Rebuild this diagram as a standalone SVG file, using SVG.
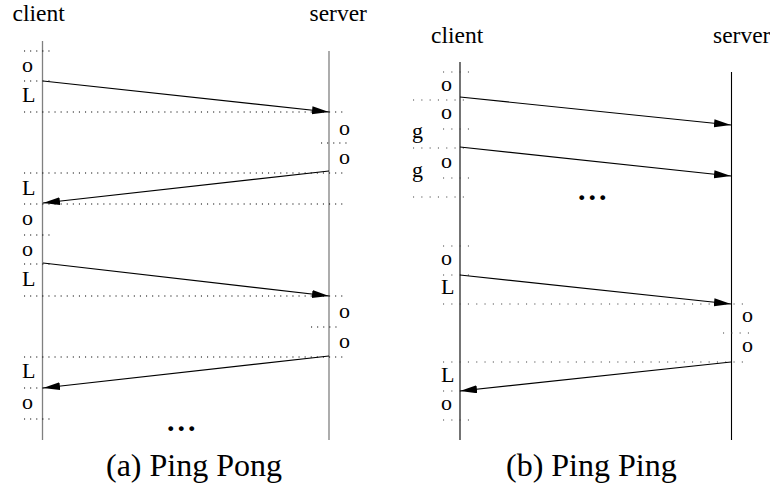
<svg xmlns="http://www.w3.org/2000/svg" width="770" height="488" viewBox="0 0 770 488" font-family="'Liberation Serif', 'DejaVu Serif', serif">
<style>
text{font-family:'Liberation Serif','DejaVu Serif',serif;fill:#000}
.h{font-size:23.5px}
.l{font-size:22px}
.cap{font-size:32px}
.dots{font-size:30px;font-weight:bold;letter-spacing:3px}
.da{stroke:#000;stroke-width:1.1;stroke-dasharray:1.1 5;fill:none}
.db{stroke:#444;stroke-width:1.1;stroke-dasharray:1.1 7.2;fill:none}
.va{stroke:#808080;stroke-width:1.3}
.vb{stroke:#000;stroke-width:1.1}
.ar{stroke:#000;stroke-width:1.1;fill:none;marker-end:url(#ah)}
</style>
<defs>
<marker id="ah" markerUnits="userSpaceOnUse" markerWidth="18" markerHeight="10" refX="17" refY="4" orient="auto">
<path d="M0,0 L17,4 L0,8 z" fill="#000"/>
</marker>
</defs>
<rect width="770" height="488" fill="#fff"/>

<g id="panel-a">
<g id="a-client"><text class="h" x="12.5" y="20.5">client</text><line class="va" x1="42.5" y1="41" x2="42.5" y2="440"/></g>
<g id="a-server"><text class="h" x="309.5" y="20.5">server</text><line class="va" x1="329" y1="51" x2="329" y2="440"/></g>
<g id="a-dotted">
<line class="da" x1="24" y1="51" x2="50" y2="51"/>
<line class="da" x1="24" y1="81" x2="50" y2="81"/>
<line class="da" x1="24" y1="112" x2="347" y2="112"/>
<line class="da" x1="321" y1="143" x2="347" y2="143"/>
<line class="da" x1="24" y1="173" x2="347" y2="173"/>
<line class="da" x1="24" y1="204" x2="347" y2="204"/>
<line class="da" x1="24" y1="235" x2="50" y2="235"/>
<line class="da" x1="24" y1="264" x2="50" y2="264"/>
<line class="da" x1="24" y1="296" x2="347" y2="296"/>
<line class="da" x1="311" y1="327" x2="337" y2="327"/>
<line class="da" x1="24" y1="357" x2="347" y2="357"/>
<line class="da" x1="24" y1="388" x2="44" y2="388"/>
<line class="da" x1="24" y1="419" x2="50" y2="419"/>
</g>
<g id="a-labels" class="l">
<text x="22" y="72">o</text>
<text x="22" y="102">L</text>
<text x="339" y="135">o</text>
<text x="339" y="164">o</text>
<text x="22" y="195">L</text>
<text x="22" y="225">o</text>
<text x="22" y="256">o</text>
<text x="22" y="286">L</text>
<text x="339" y="318">o</text>
<text x="339" y="348">o</text>
<text x="22" y="378">L</text>
<text x="22" y="409">o</text>
</g>
<text class="dots" x="167" y="431">...</text>
<text class="cap" x="106" y="476">(a) Ping Pong</text>
</g>

<g id="panel-b">
<g id="b-client"><text class="h" x="431" y="42.5">client</text><line class="vb" x1="460" y1="62" x2="460" y2="440"/></g>
<g id="b-server"><text class="h" x="713" y="42.5">server</text><line class="vb" x1="731.5" y1="72" x2="731.5" y2="440"/></g>
<g id="b-dotted">
<line class="db" x1="443" y1="72" x2="469" y2="72"/>
<line class="db" x1="413" y1="100" x2="469" y2="100"/>
<line class="db" x1="443" y1="129" x2="469" y2="129"/>
<line class="db" x1="413" y1="148" x2="469" y2="148"/>
<line class="db" x1="443" y1="178" x2="469" y2="178"/>
<line class="db" x1="413" y1="197" x2="469" y2="197"/>
<line class="db" x1="443" y1="246" x2="469" y2="246"/>
<line class="db" x1="443" y1="275" x2="469" y2="275"/>
<line class="db" x1="443" y1="304" x2="749" y2="304"/>
<line class="db" x1="723" y1="333" x2="749" y2="333"/>
<line class="db" x1="443" y1="362" x2="749" y2="362"/>
<line class="db" x1="443" y1="391" x2="469" y2="391"/>
<line class="db" x1="443" y1="420" x2="469" y2="420"/>
</g>
<g id="b-labels" class="l">
<text x="441" y="91">o</text>
<text x="441" y="119">o</text>
<text x="412" y="138">g</text>
<text x="441" y="168">o</text>
<text x="412" y="177">g</text>
<text x="441" y="265">o</text>
<text x="441" y="294">L</text>
<text x="742" y="322">o</text>
<text x="742" y="352">o</text>
<text x="441" y="382">L</text>
<text x="441" y="410">o</text>
</g>
<text class="dots" x="578" y="200">...</text>
<text class="cap" x="506" y="476">(b) Ping Ping</text>
</g>

<g id="connectors">
<line class="ar" x1="43" y1="81" x2="329" y2="112"/>
<line class="ar" x1="329" y1="171" x2="43" y2="203"/>
<line class="ar" x1="43" y1="263" x2="329" y2="296"/>
<line class="ar" x1="329" y1="356" x2="43" y2="388"/>
<line class="ar" x1="460" y1="97" x2="731" y2="125"/>
<line class="ar" x1="460" y1="147" x2="731" y2="176"/>
<line class="ar" x1="460" y1="275" x2="731" y2="304"/>
<line class="ar" x1="731" y1="362" x2="460" y2="391"/>
</g>
</svg>
